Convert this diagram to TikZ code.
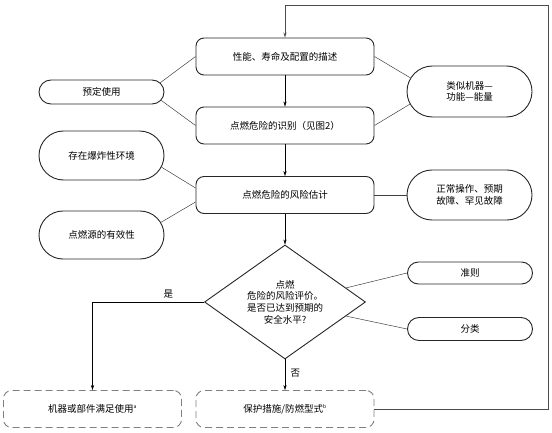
\documentclass[tikz,border=0pt]{standalone}
\usepackage{fontspec}
\setmainfont{Noto Sans CJK SC}
\usepackage{tikz}
\usetikzlibrary{arrows.meta,positioning,calc,shapes.geometric,shapes.misc}

\newcommand{\notemark}[1]{\textsuperscript{\fontsize{5}{5}\selectfont #1}}

\begin{document}
\begin{tikzpicture}[x=1pt, y=-1pt, >={Stealth[length=5pt,width=3.2pt]},
  font=\fontsize{9.5}{11.7}\selectfont,
  box/.style={draw=black!85, line width=0.9pt, rounded corners=8pt, minimum width=178pt, minimum height=37pt, inner sep=1pt},
  dbox/.style={box, draw=black!50, dash pattern=on 7pt off 4pt},
  oval/.style={draw=black!85, line width=0.9pt, rounded rectangle, minimum width=127pt, inner sep=1pt, align=center},
  link/.style={line width=0.5pt, draw=black!75}]
\useasboundingbox (0,0) rectangle (552,433);

% main column
\node[box] (desc)  at (285,56.5) {性能、寿命及配置的描述};
\node[box] (ident) at (285,125.5) {点燃危险的识别（见图2）};
\node[box] (est)   at (285,195) {点燃危险的风险估计};
\node[diamond, aspect=1.4, draw=black!85, line width=0.9pt, minimum width=161pt, minimum height=114pt, inner sep=0pt, align=center] (eval) at (285,302)
  {点燃\\危险的风险评价。\\是否已达到预期的\\安全水平?};
\node[dbox] (ok)   at (92.5,409) {机器或部件满足使用\notemark{a}};
\node[dbox] (prot) at (285,409) {保护措施/防燃型式\notemark{b}};

% side inputs
\node[oval, minimum height=24pt] (use)   at (101.5,92) {预定使用};
\node[oval, minimum height=49pt] (atm)   at (101.5,155.5) {存在爆炸性环境};
\node[oval, minimum height=48pt] (src)   at (101.5,235) {点燃源的有效性};
\node[oval, minimum height=51pt] (sim)   at (469.5,91.5) {类似机器—\\功能—能量};
\node[oval, minimum height=50pt] (fault) at (469.5,195) {正常操作、预期\\故障、罕见故障};
\node[oval, minimum height=22pt] (crit)  at (470,273) {准则};
\node[oval, minimum height=23pt] (cls)   at (470,329) {分类};

\coordinate (back) at (548,5);

\draw[->] (desc) -- (ident);
\draw[->] (ident) -- (est);
\draw[->] (est) -- (eval);
\draw[->] (eval.west) -| node[pos=0.16,above] {是} (ok.north);
\draw[->] (eval.south) -- node[pos=0.46,right,xshift=2pt] {否} (prot.north);
\draw[->, draw=black!70, line width=0.8pt] (prot.east) -| (back) -| (desc.north);

\draw[link] (use.9) -- (desc.west);
\draw[link] (use.-8) -- (ident.west);
\draw[link] (sim.167) -- (desc.east);
\draw[link] (sim.192) -- (ident.east);
\draw[link] (atm.-11) -- ([yshift=7pt]est.west);
\draw[link] (src.12) -- ([yshift=-7pt]est.west);
\draw[link] (est) -- (fault);
\draw[link] (eval.13) -- (crit.west);
\draw[link] (eval.-13) -- (cls.west);
\end{tikzpicture}
\end{document}
